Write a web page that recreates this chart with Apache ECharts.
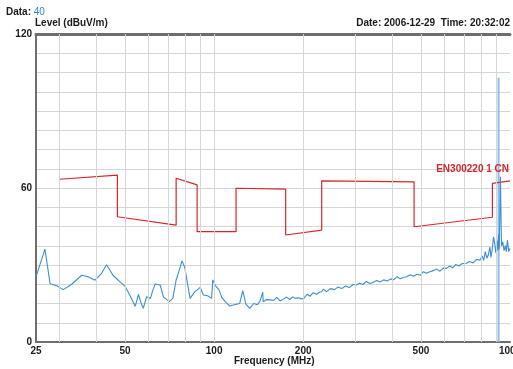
<!DOCTYPE html>
<html>
<head>
<meta charset="utf-8">
<script src="https://cdn.jsdelivr.net/npm/echarts@6/dist/echarts.min.js"></script>
<style>
html,body{margin:0;padding:0;background:#fff;}
#c{width:513px;height:369px;}
</style>
</head>
<body>
<div id="c"></div>
<script>
// ---- data ----
var xTickLabels = [25, 50, 100, 200, 500, 1000];
var xGridValues = [30, 40, 50, 60, 70, 80, 90, 100, 200, 300, 400, 500, 600, 700, 800, 900];
var yLabelValues = [0, 60, 120];

var limitFreq  = [30, 47.1, 47.1, 74.4, 74.4, 87.6, 87.6, 118.6, 118.6, 174.5, 174.5, 231, 231, 474, 474, 872, 872, 1000];
var limitLevel = [63.4, 65.0, 48.8, 45.5, 63.8, 61.2, 43.0, 43.0, 59.9, 59.6, 41.7, 43.6, 62.8, 62.4, 44.9, 48.6, 61.8, 62.8];

var traceFreq = [25, 26.8, 27.9, 29.5, 30.9, 33, 35.7, 37.5, 39.6, 41.5, 43.3, 45.5, 48, 50, 52, 54.1, 55.5, 56.5, 57.6, 59.1, 60.9, 62, 63.2, 65.7, 67.4, 70.5, 72.5, 74.4, 76, 77.9, 79.6, 82.9, 86, 89.7, 92, 95, 98.1, 98.9, 101, 103.9, 106, 109, 113, 117, 122, 125, 128, 132, 136, 140, 143, 146, 146.5, 150, 155, 159, 163, 167, 172, 176, 180, 184, 188, 193, 197, 201, 206, 211, 216, 222, 227, 231, 234, 240, 247, 255, 262, 270, 278, 286, 295, 303, 310, 318, 327, 336, 345, 354, 364, 374, 385, 395, 404, 415, 426, 437, 448, 460, 472, 485, 497, 510, 522, 536, 550, 565, 580, 595, 610, 625, 640, 656, 672, 690, 712, 730, 750, 770, 792, 805, 815, 825, 835, 845, 855, 862, 870, 880, 888, 896, 904, 910, 915, 920, 928, 936, 945, 955, 965, 972, 980, 990, 1000];
var traceLevel = [25.4, 36.2, 22.7, 21.8, 20.4, 22.5, 26.0, 25.4, 24.1, 26.5, 30.1, 26.0, 23.5, 21.7, 18.0, 13.9, 18.5, 15.5, 13.1, 17.6, 17.0, 20.0, 22.6, 22.2, 17.6, 15.7, 17.0, 24.2, 27.5, 31.6, 29.0, 17.0, 19.5, 21.3, 18.3, 18.0, 17.0, 24.2, 22.0, 20.3, 17.5, 15.7, 14.0, 14.5, 15.0, 20.0, 14.8, 13.1, 15.0, 14.5, 16.0, 19.4, 15.7, 16.5, 16.4, 16.2, 17.4, 16.0, 16.8, 17.5, 16.5, 17.6, 17.0, 17.2, 16.8, 17.0, 18.6, 17.8, 19.2, 18.6, 19.4, 19.6, 20.6, 19.6, 20.8, 20.4, 21.4, 20.8, 21.8, 21.2, 22.4, 22.2, 22.9, 22.4, 23.6, 22.8, 23.2, 24.0, 23.4, 24.2, 23.8, 24.6, 24.2, 25.4, 24.6, 25.2, 25.4, 26.2, 25.6, 26.4, 26.0, 27.4, 26.8, 27.4, 27.8, 28.4, 27.6, 28.8, 28.7, 29.6, 28.9, 30.2, 29.6, 30.6, 30.7, 31.4, 30.8, 32.2, 31.9, 33.6, 31.8, 35.2, 32.6, 34.0, 37.0, 33.0, 35.8, 41.0, 38.4, 34.7, 39.5, 35.6, 42.0, 36.0, 64.4, 37.5, 39.0, 35.6, 37.6, 35.2, 39.7, 35.2, 36.4, 35.0, 35.8];

var markerFreq = 915;
var markerLevel = 103;

var limitName = 'EN300220 1 CN';
var dateText = 'Date: 2006-12-29  Time: 20:32:02';
var dataLabel = 'Data:';
var dataValue = '40';

// ---- build ----
function pairs(xs, ys) { return xs.map(function (x, i) { return [x, ys[i]]; }); }

var FONT = '"Liberation Sans Narrow", "Liberation Sans", Arial, sans-serif';
var chart = echarts.init(document.getElementById('c'), null, { renderer: 'canvas' });

chart.setOption({
  animation: false,
  backgroundColor: '#ffffff',
  grid: { left: 36, right: 3, top: 34, bottom: 27, containLabel: false, outerBoundsMode: 'none' },
  xAxis: [{
    type: 'log', logBase: 10, min: 25, max: 1000,
    axisLine: { show: true, lineStyle: { color: '#6e6e6e', width: 2 } },
    axisTick: { show: false },
    splitLine: { show: false },
    axisLabel: {
      customValues: xTickLabels, margin: 4,
      color: '#1a1a1a', fontFamily: FONT, fontWeight: 'bold', fontSize: 10,
      formatter: function (v) { return String(Math.round(v)); }
    }
  }, {
    type: 'log', logBase: 10, min: 25, max: 1000, position: 'top',
    axisLine: { show: true, lineStyle: { color: '#6e6e6e', width: 3 } },
    axisTick: { show: false }, axisLabel: { show: false }, splitLine: { show: false }
  }],
  yAxis: {
    type: 'value', min: 0, max: 120, interval: 7.5,
    axisLine: { show: true, lineStyle: { color: '#6e6e6e', width: 2 } },
    axisTick: { show: false },
    splitLine: { show: true, lineStyle: { color: '#d6d6d6', width: 1 } },
    axisLabel: {
      margin: 4, color: '#1a1a1a', fontFamily: FONT, fontWeight: 'bold', fontSize: 10,
      formatter: function (v) { return yLabelValues.indexOf(v) >= 0 ? String(v) : ''; }
    }
  },
  series: [
    {
      type: 'line', z: 1, silent: true, symbol: 'none',
      data: [[25, 0], [1000, 0]],
      lineStyle: { opacity: 0 },
      markLine: {
        silent: true, symbol: ['none', 'none'], animation: false,
        label: { show: false },
        lineStyle: { color: '#d6d6d6', width: 1, type: 'solid' },
        data: xGridValues.map(function (v) { return { xAxis: v }; })
      }
    },
    {
      name: 'marker', type: 'line', z: 2, symbol: 'none', silent: true,
      data: [[markerFreq, 0], [markerFreq, markerLevel]],
      lineStyle: { color: '#8fbce6', width: 2 }
    },
    {
      name: limitName, type: 'line', z: 3, symbol: 'none',
      data: pairs(limitFreq, limitLevel),
      lineStyle: { color: '#d8262b', width: 1.2 }
    },
    {
      name: 'trace', type: 'line', z: 4, symbol: 'none',
      data: pairs(traceFreq, traceLevel),
      lineStyle: { color: '#3f8dd4', width: 1.1 }
    }
  ],
  graphic: [
    {
      type: 'text', left: 6, top: 7,
      style: {
        text: '{a|' + dataLabel + ' }{b|' + dataValue + '}',
        rich: {
          a: { fontFamily: FONT, fontWeight: 'bold', fontSize: 10, fill: '#1a1a1a' },
          b: { fontFamily: FONT, fontWeight: 'normal', fontSize: 10, fill: '#2a8ae0' }
        }
      }
    },
    {
      type: 'text', left: 35, top: 18,
      style: { text: 'Level (dBuV/m)', fontFamily: FONT, fontWeight: 'bold', fontSize: 10, fill: '#1a1a1a' }
    },
    {
      type: 'text', right: 3, top: 18,
      style: { text: dateText, fontFamily: FONT, fontWeight: 'bold', fontSize: 10, fill: '#1a1a1a' }
    },
    {
      type: 'text', left: 234, top: 356,
      style: { text: 'Frequency (MHz)', fontFamily: FONT, fontWeight: 'bold', fontSize: 10, fill: '#1a1a1a' }
    },
    {
      type: 'text', right: 4, top: 164, z: 10,
      style: { text: limitName, fontFamily: FONT, fontWeight: 'bold', fontSize: 10, fill: '#d8262b' }
    }
  ]
});
</script>
</body>
</html>
